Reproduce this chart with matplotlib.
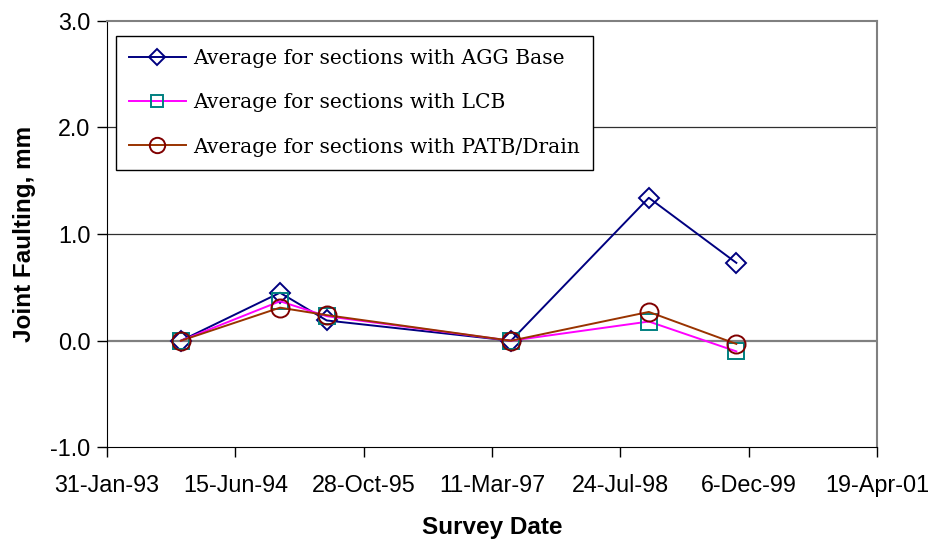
import matplotlib
matplotlib.use("Agg")
import matplotlib.pyplot as plt
import matplotlib.dates as mdates
import datetime as dt

# ---- data ----
survey_dates = ["1993-11-15", "1994-12-06", "1995-06-06", "1997-05-24", "1998-11-12", "1999-10-19"]
agg_base = [0.00, 0.45, 0.19, 0.00, 1.34, 0.73]
lcb = [0.00, 0.37, 0.23, 0.00, 0.18, -0.10]
patb_drain = [0.00, 0.31, 0.24, 0.00, 0.27, -0.03]

series_labels = ["Average for sections with AGG Base",
                 "Average for sections with LCB",
                 "Average for sections with PATB/Drain"]

x_tick_dates = ["1993-01-31", "1994-06-15", "1995-10-28", "1997-03-11",
                "1998-07-24", "1999-12-06", "2001-04-19"]
x_tick_labels = ["31-Jan-93", "15-Jun-94", "28-Oct-95", "11-Mar-97",
                 "24-Jul-98", "6-Dec-99", "19-Apr-01"]
y_ticks = [-1.0, 0.0, 1.0, 2.0, 3.0]
y_tick_labels = ["-1.0", "0.0", "1.0", "2.0", "3.0"]

def to_num(s):
    return mdates.date2num(dt.datetime.strptime(s, "%Y-%m-%d"))

xd = [to_num(s) for s in survey_dates]
xt = [to_num(s) for s in x_tick_dates]

fig = plt.figure(figsize=(9.29, 5.39), dpi=100)
ax = fig.add_axes([107/929, 1-447.4/539, 770/929, 426.7/539])

# gridlines
for y in [1.0, 2.0]:
    ax.axhline(y, color="#303030", lw=0.9, zorder=1)
ax.axhline(0.0, color="#808080", lw=1.6, zorder=1)

ax.plot(xd, agg_base, color="#000080", lw=1.4, marker="D", markersize=10,
        markerfacecolor="none", markeredgecolor="#000080", markeredgewidth=1.4,
        label=series_labels[0], zorder=3)
ax.plot(xd, lcb, color="#FF00FF", lw=1.4, marker="s", markersize=11,
        markerfacecolor="none", markeredgecolor="#008080", markeredgewidth=1.4,
        label=series_labels[1], zorder=4)
ax.plot(xd, patb_drain, color="#993300", lw=1.4, marker="o", markersize=13,
        markerfacecolor="none", markeredgecolor="#800000", markeredgewidth=1.4,
        label=series_labels[2], zorder=5)

ax.set_xlim(xt[0], xt[-1])
ax.set_ylim(-1.0, 3.0)
ax.set_xticks(xt)
ax.set_xticklabels(x_tick_labels, fontsize=16.8, family="Liberation Sans")
ax.set_yticks(y_ticks)
ax.set_yticklabels(y_tick_labels, fontsize=16.8, family="Liberation Sans")
ax.tick_params(axis="both", direction="out", length=7, width=1, color="black")
ax.tick_params(axis="x", pad=12)
ax.tick_params(axis="y", pad=5)

ax.spines["left"].set_color("black")
ax.spines["bottom"].set_color("black")
ax.spines["top"].set_color("#808080")
ax.spines["right"].set_color("#808080")
ax.spines["top"].set_linewidth(1.5)
ax.spines["right"].set_linewidth(1.5)

ax.set_xlabel("Survey Date", fontsize=17.5, fontweight="bold", family="Liberation Sans", labelpad=14)
ax.set_ylabel("Joint Faulting, mm", fontsize=17.5, fontweight="bold", family="Liberation Sans", labelpad=10)

leg = ax.legend(loc="upper left", bbox_to_anchor=(0.0113, 0.965), borderaxespad=0,
                fancybox=False, shadow=False, framealpha=1, edgecolor="black",
                prop={"family": "DejaVu Serif", "size": 14.6}, handlelength=2.8,
                handletextpad=0.35, labelspacing=1.25, borderpad=0.65, markerscale=0.85)
leg.get_frame().set_linewidth(1.0)

fig.savefig("out.png", dpi=100)
